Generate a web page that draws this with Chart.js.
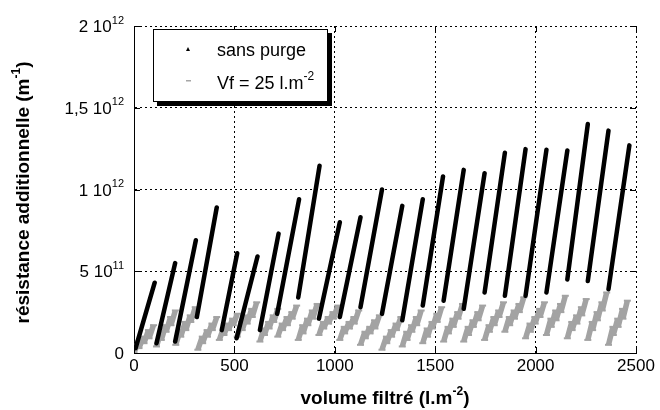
<!DOCTYPE html>
<html>
<head>
<meta charset="utf-8">
<script src="https://cdn.jsdelivr.net/npm/chart.js@4"></script>
<style>
    html, body { margin: 0; padding: 0; background: #fff; }
    canvas { display: block; }
</style>
</head>
<body>
<canvas id="chart" width="660" height="410"></canvas>
<script>
// Axis ticks
const xTicks = [0, 500, 1000, 1500, 2000, 2500];
const yTickValues = [0, 5e11, 1e12, 1.5e12, 2e12];
const yTickBase = ['0', '5 10', '1 10', '1,5 10', '2 10'];
const yTickExp = ['', '11', '12', '12', '12'];

// "sans purge" filtration cycles (volume in l.m-2, resistance in 10^12 m-1)
const blackStartV = [8, 112, 205, 313, 437, 511, 627, 713, 818, 921, 1025, 1128, 1235, 1336, 1438, 1542, 1642, 1746, 1847, 1950, 2054, 2158, 2260, 2363];
const blackStartR = [0.03, 0.06, 0.07, 0.22, 0.14, 0.09, 0.14, 0.24, 0.34, 0.21, 0.22, 0.28, 0.24, 0.20, 0.29, 0.32, 0.27, 0.37, 0.35, 0.35, 0.37, 0.45, 0.44, 0.39];
const blackEndV = [103, 205, 308, 412, 514, 615, 720, 822, 924, 1025, 1128, 1235, 1336, 1438, 1539, 1642, 1746, 1847, 1950, 2054, 2158, 2260, 2363, 2467];
const blackEndR = [0.43, 0.55, 0.69, 0.89, 0.61, 0.59, 0.73, 0.94, 1.145, 0.80, 0.83, 1.00, 0.90, 0.94, 1.08, 1.12, 1.10, 1.225, 1.247, 1.243, 1.238, 1.40, 1.36, 1.27];

// "Vf = 25 l.m-2" sub-cycles between purges (start / end volume, start / end resistance)
const grayStartV = [
    0, 25, 50, 75, 112, 136, 160, 184, 208, 233, 258, 283, 318, 342, 366, 390,
    425, 448, 471, 494, 514, 539, 564, 589, 627, 650, 673, 696, 716, 740, 764, 788,
    818, 842, 866, 890, 921, 945, 969, 993, 1025, 1049, 1073, 1097, 1128, 1152, 1176, 1200,
    1235, 1259, 1283, 1307, 1336, 1360, 1384, 1408, 1438, 1462, 1486, 1510, 1542, 1566, 1590, 1614,
    1642, 1666, 1690, 1714, 1746, 1770, 1794, 1818, 1847, 1871, 1895, 1919, 1950, 1974, 1998, 2022,
    2054, 2078, 2102, 2126, 2158, 2182, 2206, 2230, 2260, 2284, 2308, 2332, 2363, 2387, 2411, 2435
];
const grayEndV = [
    22, 47, 72, 97, 134, 158, 182, 206, 230, 255, 280, 305, 340, 364, 388, 412,
    445, 468, 491, 514, 536, 561, 586, 611, 647, 670, 693, 716, 738, 762, 786, 810,
    840, 864, 888, 912, 943, 967, 991, 1015, 1047, 1071, 1095, 1119, 1150, 1174, 1198, 1222,
    1257, 1281, 1305, 1329, 1358, 1382, 1406, 1430, 1460, 1484, 1508, 1532, 1564, 1588, 1612, 1636,
    1664, 1688, 1712, 1736, 1768, 1792, 1816, 1840, 1869, 1893, 1917, 1941, 1972, 1996, 2020, 2044,
    2076, 2100, 2124, 2148, 2180, 2204, 2228, 2252, 2282, 2306, 2330, 2354, 2385, 2409, 2433, 2457
];
const grayStartR = [
    0.00, 0.03, 0.06, 0.09, 0.04, 0.08, 0.13, 0.17, 0.05, 0.10, 0.14, 0.19, 0.02, 0.06, 0.10, 0.14,
    0.08, 0.11, 0.14, 0.17, 0.10, 0.14, 0.18, 0.22, 0.07, 0.11, 0.15, 0.19, 0.10, 0.14, 0.17, 0.21,
    0.08, 0.12, 0.17, 0.21, 0.11, 0.15, 0.18, 0.21, 0.08, 0.12, 0.15, 0.18, 0.05, 0.09, 0.12, 0.15,
    0.02, 0.06, 0.10, 0.14, 0.04, 0.08, 0.13, 0.17, 0.06, 0.10, 0.15, 0.19, 0.07, 0.12, 0.16, 0.21,
    0.07, 0.11, 0.16, 0.20, 0.08, 0.13, 0.17, 0.22, 0.13, 0.17, 0.21, 0.25, 0.09, 0.13, 0.18, 0.22,
    0.11, 0.16, 0.20, 0.25, 0.09, 0.14, 0.18, 0.23, 0.08, 0.14, 0.20, 0.26, 0.05, 0.11, 0.16, 0.21
];
const grayEndR = [
    0.07, 0.10, 0.14, 0.17, 0.13, 0.17, 0.22, 0.26, 0.14, 0.19, 0.23, 0.28, 0.10, 0.14, 0.18, 0.22,
    0.15, 0.18, 0.21, 0.24, 0.19, 0.23, 0.27, 0.31, 0.15, 0.19, 0.23, 0.27, 0.18, 0.22, 0.25, 0.29,
    0.17, 0.21, 0.26, 0.30, 0.19, 0.22, 0.25, 0.29, 0.16, 0.19, 0.22, 0.26, 0.13, 0.16, 0.20, 0.23,
    0.10, 0.14, 0.18, 0.22, 0.13, 0.17, 0.22, 0.26, 0.15, 0.19, 0.24, 0.28, 0.16, 0.21, 0.25, 0.30,
    0.16, 0.20, 0.25, 0.29, 0.17, 0.22, 0.26, 0.31, 0.22, 0.26, 0.30, 0.34, 0.18, 0.22, 0.27, 0.31,
    0.21, 0.26, 0.30, 0.35, 0.19, 0.23, 0.28, 0.33, 0.19, 0.25, 0.31, 0.37, 0.16, 0.21, 0.27, 0.32
];

function buildSegments(sv, sr, ev, er) {
    const pts = [];
    for (let i = 0; i < sv.length; i++) {
        pts.push({ x: sv[i], y: sr[i] * 1e12 });
        pts.push({ x: ev[i], y: er[i] * 1e12 });
        pts.push({ x: ev[i], y: null });
    }
    return pts;
}

const FONT = '"Liberation Sans", Arial, sans-serif';

function drawSup(ctx, base, exp, x, y, align, size, supSize, weight) {
    const w = weight ? weight + ' ' : '';
    ctx.font = w + size + 'px ' + FONT;
    const wb = ctx.measureText(base).width;
    ctx.font = w + supSize + 'px ' + FONT;
    const we = exp ? ctx.measureText(exp).width : 0;
    let left = x;
    if (align === 'right') left = x - wb - we;
    if (align === 'center') left = x - (wb + we) / 2;
    ctx.textAlign = 'left';
    ctx.textBaseline = 'alphabetic';
    ctx.font = w + size + 'px ' + FONT;
    ctx.fillText(base, left, y);
    if (exp) {
        ctx.font = w + supSize + 'px ' + FONT;
        ctx.fillText(exp, left + wb, y - size * 0.5);
    }
    return left + wb + we;
}

// Ticks inside the frame, labels with exponents, titles and legend box
const decorations = {
    id: 'decorations',
    afterDraw(chart) {
        const { ctx, chartArea: a, scales: { x, y } } = chart;
        ctx.save();
        ctx.strokeStyle = '#000';
        ctx.lineWidth = 1;
        ctx.beginPath();
        xTicks.forEach(v => {
            const px = Math.round(x.getPixelForValue(v)) + 0.5;
            ctx.moveTo(px, a.bottom); ctx.lineTo(px, a.bottom - 6);
            ctx.moveTo(px, a.top); ctx.lineTo(px, a.top + 6);
        });
        yTickValues.forEach(v => {
            const py = Math.round(y.getPixelForValue(v)) + 0.5;
            ctx.moveTo(a.left, py); ctx.lineTo(a.left + 6, py);
            ctx.moveTo(a.right, py); ctx.lineTo(a.right - 6, py);
        });
        ctx.stroke();

        ctx.fillStyle = '#000';
        xTicks.forEach(v => {
            drawSup(ctx, String(v), '', x.getPixelForValue(v), 371, 'center', 17, 11);
        });
        yTickValues.forEach((v, i) => {
            drawSup(ctx, yTickBase[i], yTickExp[i], 124, y.getPixelForValue(v) + 6, 'right', 17, 11);
        });

        // x title
        ctx.font = 'bold 19px ' + FONT;
        const wx = ctx.measureText('volume filtré (l.m').width + ctx.measureText(')').width;
        ctx.font = 'bold 12px ' + FONT;
        const wxs = ctx.measureText('-2').width;
        const xl = (a.left + a.right) / 2 - (wx + wxs) / 2;
        const xe = drawSup(ctx, 'volume filtré (l.m', '-2', xl, 404, 'left', 19, 12, 'bold');
        ctx.font = 'bold 19px ' + FONT;
        ctx.fillText(')', xe, 404);

        // y title
        ctx.save();
        ctx.translate(29, (a.top + a.bottom) / 2 + 3);
        ctx.rotate(-Math.PI / 2);
        ctx.font = 'bold 19px ' + FONT;
        const wy = ctx.measureText('résistance additionnelle (m').width + ctx.measureText(')').width;
        ctx.font = 'bold 12px ' + FONT;
        const wys = ctx.measureText('-1').width;
        const ye = drawSup(ctx, 'résistance additionnelle (m', '-1', -(wy + wys) / 2, 0, 'left', 19, 12, 'bold');
        ctx.font = 'bold 19px ' + FONT;
        ctx.fillText(')', ye, 0);
        ctx.restore();

        // legend
        ctx.fillStyle = '#000';
        ctx.fillRect(157, 33, 175, 73);
        ctx.fillStyle = '#fff';
        ctx.fillRect(153, 29, 175, 73);
        ctx.strokeRect(153.5, 29.5, 174, 72);
        ctx.fillStyle = '#000';
        ctx.beginPath();
        ctx.moveTo(188, 47); ctx.lineTo(190, 51); ctx.lineTo(186, 51); ctx.closePath();
        ctx.fill();
        ctx.fillStyle = '#a6a6a6';
        ctx.fillRect(186, 80, 5, 1.5);
        ctx.fillStyle = '#000';
        drawSup(ctx, 'sans purge', '', 217, 56, 'left', 18, 12);
        drawSup(ctx, 'Vf = 25 l.m', '-2', 217, 89, 'left', 18, 12);
        ctx.restore();
    }
};

const ctx = document.getElementById('chart').getContext('2d');
const chart = new Chart(ctx, {
    type: 'scatter',
    data: {
        datasets: [
            {
                label: 'sans purge',
                data: buildSegments(blackStartV, blackStartR, blackEndV, blackEndR),
                showLine: true,
                spanGaps: false,
                borderColor: '#000',
                borderWidth: 4.5,
                borderCapStyle: 'round',
                pointRadius: 0
            },
            {
                label: 'Vf = 25 l.m-2',
                data: buildSegments(grayStartV, grayStartR, grayEndV, grayEndR),
                showLine: true,
                spanGaps: false,
                borderColor: '#a3a3a3',
                borderWidth: 5.5,
                borderCapStyle: 'butt',
                pointStyle: 'line',
                pointRadius: 3.5,
                pointBorderWidth: 2,
                pointBorderColor: '#a3a3a3'
            }
        ]
    },
    options: {
        responsive: false,
        animation: false,
        devicePixelRatio: 1,
        layout: { padding: { top: 26, right: 24, left: 0, bottom: 0 } },
        plugins: { legend: { display: false }, tooltip: { enabled: false } },
        scales: {
            x: {
                type: 'linear',
                min: 0,
                max: 2500,
                afterFit: s => { s.height = 57; },
                afterBuildTicks: s => { s.ticks = xTicks.map(v => ({ value: v })); },
                ticks: { display: false },
                grid: { color: '#000', drawTicks: false },
                border: { display: true, color: '#000', width: 1, dash: [2, 3] }
            },
            y: {
                type: 'linear',
                min: 0,
                max: 2e12,
                afterFit: s => { s.width = 134; },
                afterBuildTicks: s => { s.ticks = yTickValues.map(v => ({ value: v })); },
                ticks: { display: false },
                grid: { color: '#000', drawTicks: false },
                border: { display: true, color: '#000', width: 1, dash: [2, 3] }
            }
        }
    },
    plugins: [decorations]
});
</script>
</body>
</html>
